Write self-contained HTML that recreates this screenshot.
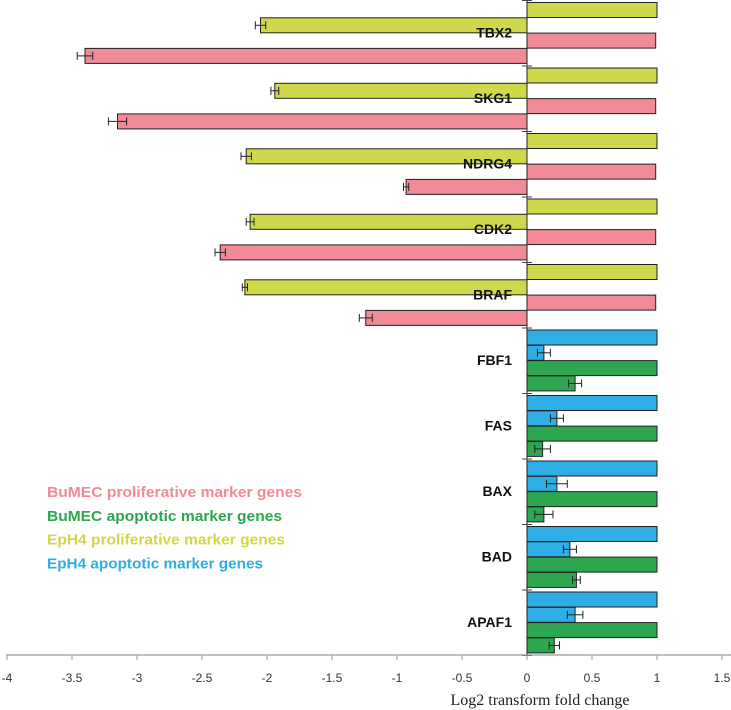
<!DOCTYPE html>
<html><head><meta charset="utf-8"><style>
body{margin:0;background:#fff;}
svg{display:block;font-family:"Liberation Sans",sans-serif;}
</style></head><body>
<svg id="chart" width="731" height="710"></svg>
<script>
const genes=["TBX2","SKG1","NDRG4","CDK2","BRAF","FBF1","FAS","BAX","BAD","APAF1"];
const refA=[1,1,1,1,1,1,1,1,1,1];
const valA=[-2.05,-1.94,-2.16,-2.13,-2.17,0.13,0.23,0.23,0.33,0.37];
const errA=[0.04,0.03,0.04,0.03,0.02,0.05,0.05,0.08,0.05,0.06];
const refB=[0.99,0.99,0.99,0.99,0.99,1,1,1,1,1];
const valB=[-3.4,-3.15,-0.93,-2.36,-1.24,0.37,0.12,0.13,0.38,0.21];
const errB=[0.06,0.07,0.02,0.04,0.05,0.05,0.06,0.07,0.03,0.04];
const ticks=[-4,-3.5,-3,-2.5,-2,-1.5,-1,-0.5,0,0.5,1,1.5];
const tickLabels=["-4","-3.5","-3","-2.5","-2","-1.5","-1","-0.5","0","0.5","1","1.5"];
const NS="http://www.w3.org/2000/svg";
const svg=document.getElementById('chart');
const x=v=>527+v*130;
const groupH=65.5, axisY=655, bh=15, step=15.3;
function el(t,a,p){const e=document.createElementNS(NS,t);for(const k in a)e.setAttribute(k,a[k]);(p||svg).appendChild(e);return e;}
const C={y:"#cfd84a",r:"#f08a96",b:"#2eaee4",g:"#2ea64f"};
function bar(v,yy,col,name){
  const x0=Math.min(x(0),x(v)),w=Math.abs(x(v)-x(0));
  const r=el('rect',{x:x0,y:yy,width:w,height:bh,fill:col,stroke:"#222","stroke-width":1});
  
  
}
function err(v,e,yy){
  const g=el('g',{stroke:"#222","stroke-width":1});
  
  
  const cy=yy+bh/2;
  el('line',{x1:x(v-e),x2:x(v+e),y1:cy,y2:cy},g);
  el('line',{x1:x(v-e),x2:x(v-e),y1:cy-4,y2:cy+4},g);
  el('line',{x1:x(v+e),x2:x(v+e),y1:cy-4,y2:cy+4},g);
}
genes.forEach((gname,i)=>{
  const top=i*groupH+2.5;
  const prolif=i<5;
  const cA=prolif?C.y:C.b, cB=prolif?C.r:C.g;
  bar(refA[i],top,cA,'bar-ref-'+gname.toLowerCase());
  bar(valA[i],top+step,cA,'bar-a-'+gname.toLowerCase());
  err(valA[i],errA[i],top+step);
  bar(refB[i],top+2*step,cB,'bar-ref2-'+gname.toLowerCase());
  bar(valB[i],top+3*step,cB,'bar-b-'+gname.toLowerCase());
  err(valB[i],errB[i],top+3*step);
});
const ya=el('line',{x1:x(0),x2:x(0),y1:0,y2:axisY,stroke:"#222","stroke-width":1});

for(let i=0;i<=10;i++){el('line',{x1:x(0)-5,x2:x(0)+5,y1:i*groupH+0.5,y2:i*groupH+0.5,stroke:"#444"});}
genes.forEach((gname,i)=>{
  const t=el('text',{x:512,y:i*groupH+37.5,"text-anchor":"end","font-size":"14","font-weight":"bold",fill:"#111"});
  t.textContent=gname;
  
  
});
const xa=el('line',{x1:6,x2:731,y1:axisY,y2:axisY,stroke:"#999","stroke-width":1.2});

ticks.forEach((v,i)=>{
  el('line',{x1:x(v),x2:x(v),y1:axisY,y2:axisY+5,stroke:"#999"});
  const t=el('text',{x:x(v),y:682,"text-anchor":"middle","font-size":"12",fill:"#333"});
  t.textContent=tickLabels[i];
  
  
});
const xt=el('text',{x:540,y:705,"text-anchor":"middle","font-size":"16","font-family":"Liberation Serif, serif",fill:"#222"});
xt.textContent="Log2  transform fold change";

const leg=[["BuMEC proliferative marker genes",C.r],["BuMEC apoptotic marker genes",C.g],["EpH4 proliferative marker genes",C.y],["EpH4 apoptotic marker genes",C.b]];
leg.forEach((l,i)=>{
  const t=el('text',{x:47,y:497+i*23.8,"font-size":"15","font-weight":"bold",fill:l[1],textLength:[255,235,238,216][i],lengthAdjust:"spacingAndGlyphs"});
  t.textContent=l[0];
  
  
});
</script>
</body></html>
